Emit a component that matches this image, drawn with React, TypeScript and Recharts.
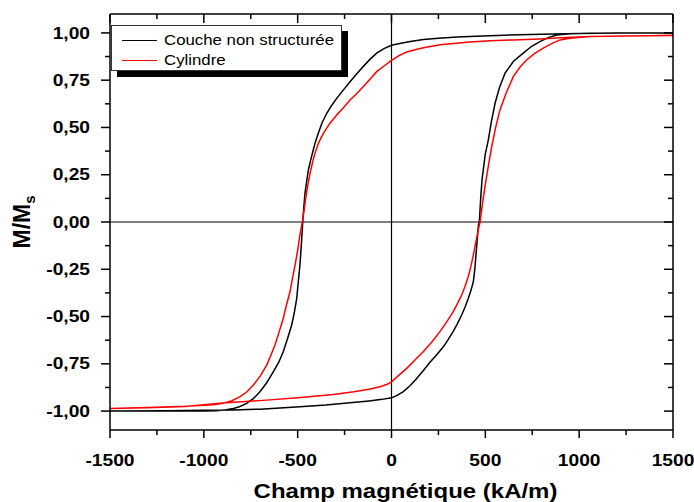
import React from "react";
import { LineChart, Line, XAxis, YAxis, ReferenceLine } from "recharts";

// Hysteresis loops: H (kA/m) -> M/Ms
// each loop = descending branch (+1500 -> -1500) then ascending branch (-1500 -> +1500)
const coucheH = [
  1500, 1200, 1000, 800, 600, 450, 350, 250, 170, 100, 50, 0, -40, -79, -115, -150, -185, -221, -255, -292,
  -320, -345, -370, -390, -405, -417, -430, -443, -452, -461, -468, -473, -479, -488, -497, -505, -518, -532,
  -555, -577, -600, -630, -665, -701, -735, -772, -810, -843, -880, -931, -1000, -1200, -1500,
  -1200, -1000, -845, -700, -488, -350, -221, -120, -50, 0, 30, 63, 100, 134, 170, 205, 240, 276, 300, 329,
  350, 374, 392, 409, 424, 436, 444, 450, 457, 463, 468, 475, 482, 489, 500, 516, 532, 552, 575, 605, 650,
  702, 745, 791, 835, 880, 950, 1058, 1250, 1500,
];
const coucheM = [
  1.0, 0.999, 0.997, 0.993, 0.988, 0.982, 0.978, 0.972, 0.965, 0.955, 0.945, 0.935, 0.917, 0.893, 0.86, 0.823,
  0.784, 0.742, 0.7, 0.654, 0.615, 0.575, 0.525, 0.469, 0.425, 0.381, 0.33, 0.275, 0.215, 0.152, 0.07, 0,
  -0.1, -0.228, -0.32, -0.404, -0.48, -0.545, -0.62, -0.686, -0.74, -0.792, -0.85, -0.898, -0.933, -0.959,
  -0.977, -0.986, -0.993, -0.998, -1.0, -1.0, -1.0,
  -0.998, -0.996, -0.994, -0.99, -0.977, -0.968, -0.956, -0.946, -0.938, -0.93, -0.917, -0.897, -0.865,
  -0.827, -0.785, -0.742, -0.703, -0.66, -0.625, -0.578, -0.54, -0.492, -0.45, -0.404, -0.36, -0.316, -0.25,
  -0.175, -0.09, -0.016, 0, 0.12, 0.22, 0.275, 0.36, 0.434, 0.53, 0.628, 0.71, 0.787, 0.85, 0.893, 0.928,
  0.954, 0.975, 0.989, 0.996, 0.998, 1.0, 1.0,
];

const cylindreH = [
  1500, 1250, 1058, 900, 791, 650, 525, 400, 258, 170, 120, 81, 40, 0, -40, -79, -115, -150, -185, -221, -255,
  -292, -330, -363, -388, -408, -422, -434, -446, -456, -466, -475, -488, -500, -514, -528, -541, -560, -577,
  -600, -621, -643, -665, -700, -736, -770, -807, -850, -896, -950, -1100, -1300, -1500,
  -1300, -1100, -900, -800, -665, -500, -310, -200, -120, -61, -20, 0, 40, 81, 125, 169, 215, 258, 295, 329,
  352, 374, 392, 409, 423, 436, 447, 457, 465, 472, 480, 488, 498, 515, 534, 555, 578, 610, 649, 685, 720,
  765, 809, 855, 898, 950, 1058, 1250, 1500,
];
const cylindreM = [
  0.986, 0.983, 0.981, 0.974, 0.968, 0.963, 0.959, 0.95, 0.937, 0.922, 0.91, 0.899, 0.88, 0.855, 0.825, 0.795,
  0.755, 0.716, 0.68, 0.645, 0.606, 0.566, 0.52, 0.469, 0.42, 0.363, 0.31, 0.258, 0.195, 0.134, 0.06, 0,
  -0.069, -0.15, -0.228, -0.3, -0.369, -0.44, -0.51, -0.585, -0.651, -0.705, -0.757, -0.815, -0.862, -0.898,
  -0.924, -0.945, -0.959, -0.966, -0.975, -0.981, -0.986,
  -0.982, -0.976, -0.957, -0.95, -0.942, -0.93, -0.912, -0.898, -0.885, -0.871, -0.857, -0.845, -0.81,
  -0.774, -0.73, -0.686, -0.635, -0.58, -0.527, -0.474, -0.43, -0.386, -0.34, -0.289, -0.235, -0.175, -0.12,
  -0.069, -0.03, 0, 0.06, 0.12, 0.187, 0.29, 0.398, 0.5, 0.593, 0.68, 0.769, 0.82, 0.857, 0.893, 0.919,
  0.945, 0.963, 0.972, 0.981, 0.984, 0.986,
];

const xTicks = [-1500, -1250, -1000, -750, -500, -250, 0, 250, 500, 750, 1000, 1250, 1500];
const yTicks = [-1, -0.875, -0.75, -0.625, -0.5, -0.375, -0.25, -0.125, 0, 0.125, 0.25, 0.375, 0.5, 0.625, 0.75, 0.875, 1];

// black loop uses bottom/left axes, red loop uses top/right axes (identical domains)
const series = [
  { name: "Couche non structurée", color: "#000000", h: coucheH, m: coucheM, xId: "bottom", yId: "left" },
  { name: "Cylindre", color: "#ff0000", h: cylindreH, m: cylindreM, xId: "top", yId: "right" },
];

const FONT = "'Liberation Sans', Arial, sans-serif";
const STRETCH = 1.2; // the original figure is stretched horizontally

const isMajorX = (v: number) => v % 500 === 0;
const isMajorY = (v: number) => Math.abs(v * 4 - Math.round(v * 4)) < 1e-6;
const fmtY = (v: number) => v.toFixed(2).replace(".", ",");

const LeftTick = ({ x, y, payload }: any) => {
  const major = isMajorY(payload.value);
  const len = major ? 9 : 5;
  return (
    <g>
      <line x1={x - len} x2={x} y1={y} y2={y} stroke="#000" strokeWidth={1.5} />
      {major && (
        <text
          transform={`translate(${x - 20},${y}) scale(${STRETCH},1)`}
          textAnchor="end"
          dy="0.35em"
          fontFamily={FONT}
          fontWeight="bold"
          fontSize={16}
          fill="#000"
        >
          {fmtY(payload.value)}
        </text>
      )}
    </g>
  );
};

const RightTick = ({ x, y, payload }: any) => {
  const len = isMajorY(payload.value) ? 9 : 5;
  return <line x1={x} x2={x - len} y1={y} y2={y} stroke="#000" strokeWidth={1.5} />;
};

const BottomTick = ({ x, y, payload }: any) => {
  const major = isMajorX(payload.value);
  const len = major ? 8 : 5;
  return (
    <g>
      <line x1={x} x2={x} y1={y} y2={y + len} stroke="#000" strokeWidth={1.5} />
      {major && (
        <text
          transform={`translate(${x},${y + 36}) scale(${STRETCH},1)`}
          textAnchor="middle"
          fontFamily={FONT}
          fontWeight="bold"
          fontSize={16}
          fill="#000"
        >
          {payload.value}
        </text>
      )}
    </g>
  );
};

const TopTick = ({ x, y, payload }: any) => {
  const len = isMajorX(payload.value) ? 9 : 5;
  return <line x1={x} x2={x} y1={y} y2={y + len} stroke="#000" strokeWidth={1.5} />;
};

const XTitle = ({ viewBox }: any) => {
  const cx = viewBox.x + viewBox.width / 2 + 14;
  return (
    <text
      transform={`translate(${cx},${viewBox.y + 68}) scale(${STRETCH},1)`}
      textAnchor="middle"
      fontFamily={FONT}
      fontWeight="bold"
      fontSize={20}
      fill="#000"
    >
      Champ magnétique (kA/m)
    </text>
  );
};

const YTitle = ({ viewBox }: any) => {
  const cy = viewBox.y + viewBox.height / 2;
  return (
    <text
      transform={`translate(30,${cy}) rotate(-90)`}
      textAnchor="middle"
      fontFamily={FONT}
      fontWeight="bold"
      fontSize={23}
      fill="#000"
    >
      M/M
      <tspan fontSize={15} dy={5}>
        s
      </tspan>
    </text>
  );
};

const axisLine = { stroke: "#000", strokeWidth: 1.5 };

export default function App() {
  const loops = series.map((s) => ({ ...s, data: s.h.map((h, i) => ({ h, m: s.m[i] })) }));

  return (
    <div style={{ position: "absolute", left: 0, top: 0, width: 694, height: 502, background: "#fff" }}>
      <LineChart width={694} height={502} margin={{ top: 13, right: 20, left: 0, bottom: 0 }}>
        <XAxis
          xAxisId="bottom"
          dataKey="h"
          type="number"
          domain={[-1500, 1500]}
          allowDataOverflow
          ticks={xTicks}
          interval={0}
          tickSize={0}
          tickMargin={0}
          tickLine={false}
          tick={<BottomTick />}
          height={72}
          axisLine={axisLine}
          label={<XTitle />}
        />
        <XAxis
          xAxisId="top"
          dataKey="h"
          orientation="top"
          type="number"
          domain={[-1500, 1500]}
          allowDataOverflow
          ticks={xTicks}
          interval={0}
          tickSize={0}
          tickMargin={0}
          tickLine={false}
          tick={<TopTick />}
          height={1}
          axisLine={axisLine}
        />
        <YAxis
          yAxisId="left"
          type="number"
          domain={[-1.1, 1.1]}
          allowDataOverflow
          ticks={yTicks}
          interval={0}
          tickSize={0}
          tickMargin={0}
          tickLine={false}
          tick={<LeftTick />}
          width={110}
          axisLine={axisLine}
          label={<YTitle />}
        />
        <YAxis
          yAxisId="right"
          orientation="right"
          type="number"
          domain={[-1.1, 1.1]}
          allowDataOverflow
          ticks={yTicks}
          interval={0}
          tickSize={0}
          tickMargin={0}
          tickLine={false}
          tick={<RightTick />}
          width={1}
          axisLine={axisLine}
        />
        <ReferenceLine xAxisId="bottom" yAxisId="left" x={0} stroke="#000" strokeWidth={1.2} />
        <ReferenceLine xAxisId="bottom" yAxisId="left" y={0} stroke="#000" strokeWidth={1.2} />
        {loops.map((s) => (
          <Line
            key={s.name}
            xAxisId={s.xId}
            yAxisId={s.yId}
            data={s.data}
            dataKey="m"
            name={s.name}
            type="linear"
            stroke={s.color}
            strokeWidth={1.5}
            dot={false}
            isAnimationActive={false}
          />
        ))}
      </LineChart>
      <div
        style={{
          position: "absolute",
          left: 111,
          top: 25,
          width: 229,
          height: 44,
          background: "#fff",
          border: "1px solid #333",
          boxShadow: "6px 6px 0 #000",
          fontFamily: FONT,
          fontSize: 14,
        }}
      >
        {series.map((s, i) => (
          <div key={s.name} style={{ position: "absolute", left: 10, top: 5 + i * 20, height: 18, display: "flex", alignItems: "center" }}>
            <span style={{ display: "inline-block", width: 35, height: 0, borderTop: `1.5px solid ${s.color}` }} />
            <span style={{ marginLeft: 7, display: "inline-block", transform: `scaleX(${STRETCH})`, transformOrigin: "left center", whiteSpace: "nowrap" }}>
              {s.name}
            </span>
          </div>
        ))}
      </div>
    </div>
  );
}
